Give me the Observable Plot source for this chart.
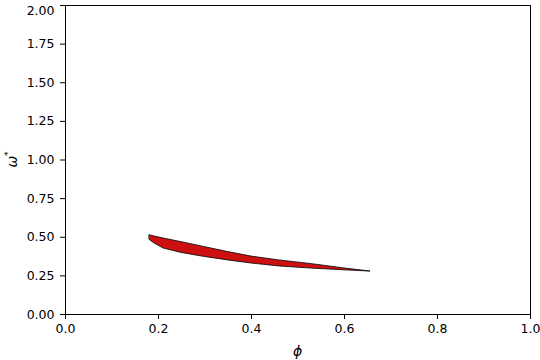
<!DOCTYPE html>
<html>
<head>
<meta charset="utf-8">
<script src="https://cdn.jsdelivr.net/npm/d3@7"></script>
<script src="https://cdn.jsdelivr.net/npm/@observablehq/plot@0.6"></script>
<style>
  html, body { margin: 0; padding: 0; background: #fff; }
  svg { font-family: "DejaVu Sans", sans-serif; overflow: visible; }
  svg g[aria-label="x-axis tick label"] text, svg g[aria-label="y-axis tick label"] text { font-size: 12.5px; }
</style>
</head>
<body>
<div id="chart"></div>
<script>
const phi   = [0.181, 0.19, 0.211, 0.25, 0.30, 0.35, 0.40, 0.46, 0.53, 0.60, 0.656];
const upper = [0.513, 0.506, 0.492, 0.468, 0.436, 0.404, 0.375, 0.350, 0.326, 0.298, 0.278];
const lower = [0.483, 0.462, 0.427, 0.398, 0.372, 0.350, 0.330, 0.311, 0.297, 0.286, 0.278];
const xTicks = [0, 0.2, 0.4, 0.6, 0.8, 1.0];
const yTicks = [0, 0.25, 0.5, 0.75, 1.0, 1.25, 1.5, 1.75, 2.0];

const data = phi.map((p, i) => ({phi: p, lo: lower[i], hi: upper[i]}));

const chart = Plot.plot({
  width: 540,
  height: 360,
  marginLeft: 65,
  marginRight: 10,
  marginTop: 5,
  marginBottom: 46,
  style: {fontFamily: "DejaVu Sans, sans-serif", fontSize: "12.5px", color: "#000", background: "#fff", overflow: "visible"},
  x: {domain: [0, 1], ticks: xTicks, tickFormat: d3.format(".1f"), label: null},
  y: {domain: [0, 2], ticks: yTicks, tickFormat: d3.format(".2f"), label: null},
  marks: [
    Plot.areaY(data, {x: "phi", y1: "lo", y2: "hi", fill: "#cc1010", stroke: "#000", strokeWidth: 0.8, curve: "linear"}),
    Plot.frame({stroke: "#000", strokeWidth: 1}),
    Plot.axisX({ticks: xTicks, tickFormat: d3.format(".1f"), tickSize: 5, tickPadding: 5, fontSize: 12.5, label: null}),
    Plot.axisY({ticks: yTicks, tickFormat: d3.format(".2f"), tickSize: 5, tickPadding: 6, fontSize: 12.5, label: null})
  ]
});
document.getElementById("chart").appendChild(chart);

const svg = d3.select(chart);
// keep the top tick label inside the picture
svg.selectAll('g[aria-label="y-axis tick label"] text')
  .filter(function() { return this.textContent === "2.00"; })
  .attr("dy", "0.42em");
// x label
svg.append("text")
  .attr("x", 297.5).attr("y", 356)
  .attr("text-anchor", "middle")
  .attr("font-family", "DejaVu Sans, sans-serif")
  .attr("font-size", 14)
  .attr("font-style", "italic")
  .attr("fill", "#000")
  .text("ϕ");
// y label with superscript
const yl = svg.append("text")
  .attr("transform", "translate(17,159.5) rotate(-90)")
  .attr("text-anchor", "middle")
  .attr("font-family", "DejaVu Sans, sans-serif")
  .attr("font-size", 14)
  .attr("font-style", "italic")
  .attr("fill", "#000");
yl.append("tspan").text("ω");
yl.append("tspan").attr("font-size", 9).attr("font-style", "normal").attr("dy", -6).text("*");
</script>
</body>
</html>
